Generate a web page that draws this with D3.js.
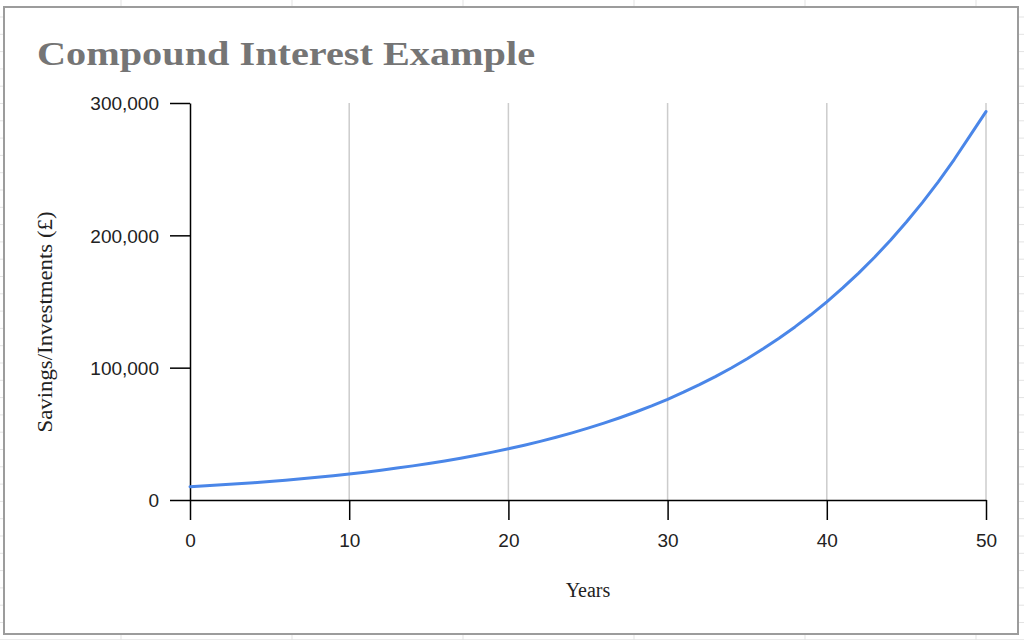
<!DOCTYPE html>
<html>
<head>
<meta charset="utf-8">
<script src="https://cdn.jsdelivr.net/npm/d3@7"></script>
<style>
  html, body { margin: 0; padding: 0; background: #ffffff; }
  svg { display: block; }
</style>
</head>
<body>
<svg id="chart" width="1024" height="640"></svg>
<script>
// ---- data ----
const title = "Compound Interest Example";
const xTitle = "Years";
const yTitle = "Savings/Investments (£)";
const years = [0,1,2,3,4,5,6,7,8,9,10,11,12,13,14,15,16,17,18,19,20,21,22,23,24,25,26,27,28,29,30,31,32,33,34,35,36,37,38,39,40,41,42,43,44,45,46,47,48,49,50];
const savings = [10000,10700,11449,12250,13108,14026,15007,16058,17182,18385,
  19672,21049,22522,24098,25785,27590,29522,31588,33799,36165,
  38697,41406,44304,47405,50724,54274,58074,62139,66488,71143,
  76123,81451,87153,93253,99781,106766,114239,122236,130793,139948,
  149745,160227,171443,183444,196285,210025,224726,240457,257289,275299,
  293500];
const xTicks = [0,10,20,30,40,50];
const yTicks = [0,100000,200000,300000];

// ---- layout ----
const svg = d3.select("#chart");
const W = 1024, H = 640;
const plot = {left: 190, right: 986, top: 103, bottom: 500};

// spreadsheet background grid
const bg = svg.append("g").attr("stroke", "#e3e3e3").attr("stroke-width", 1);
d3.range(121, W, 171).forEach(x => bg.append("line").attr("x1", x).attr("x2", x).attr("y1", 0).attr("y2", H));
d3.range(17, H, 17.3).forEach(y => bg.append("line").attr("x1", 0).attr("x2", W).attr("y1", y).attr("y2", y));

// chart box
svg.append("rect").attr("x", 4).attr("y", 7).attr("width", 1014).attr("height", 627)
  .attr("fill", "#ffffff").attr("stroke", "#9c9c9c").attr("stroke-width", 2);

const x = d3.scaleLinear().domain([0, 50]).range([plot.left, plot.right]);
const y = d3.scaleLinear().domain([0, 300000]).range([plot.bottom, plot.top]);

// vertical gridlines
svg.append("g").selectAll("line").data(xTicks.filter(d => d > 0)).join("line")
  .attr("x1", d => x(d)).attr("x2", d => x(d))
  .attr("y1", plot.top).attr("y2", plot.bottom)
  .attr("stroke", "#cccccc").attr("stroke-width", 1.5);

// axes
const fmt = d3.format(",");
const yAxis = svg.append("g").attr("transform", `translate(${plot.left},0)`)
  .call(d3.axisLeft(y).tickValues(yTicks).tickFormat(fmt).tickSize(20).tickSizeOuter(0).tickPadding(11));
const xAxis = svg.append("g").attr("transform", `translate(0,${plot.bottom})`)
  .call(d3.axisBottom(x).tickValues(xTicks).tickFormat(d3.format("d")).tickSize(20).tickSizeOuter(0).tickPadding(14));

[yAxis, xAxis].forEach(a => {
  a.selectAll("path.domain").attr("stroke", "#000").attr("stroke-width", 1.5);
  a.selectAll(".tick line").attr("stroke", "#000").attr("stroke-width", 1.5);
  a.selectAll(".tick text").attr("fill", "#222").attr("font-family", "'Liberation Sans', Arial, sans-serif").attr("font-size", 19);
});
yAxis.selectAll(".tick text").attr("dy", "0.36em");

// line
const line = d3.line().x((d, i) => x(years[i])).y(d => y(d));
svg.append("path").datum(savings)
  .attr("d", line).attr("fill", "none")
  .attr("stroke", "#4a86e8").attr("stroke-width", 3)
  .attr("stroke-linejoin", "round").attr("stroke-linecap", "round");

// titles
svg.append("text").attr("x", 37).attr("y", 65)
  .attr("font-family", "'Liberation Serif', 'DejaVu Serif', serif").attr("font-weight", "bold")
  .attr("font-size", 33).attr("fill", "#757575")
  .attr("textLength", 498).attr("lengthAdjust", "spacingAndGlyphs")
  .text(title);

svg.append("text").attr("x", 588).attr("y", 597).attr("text-anchor", "middle")
  .attr("font-family", "'Liberation Serif', serif").attr("font-size", 20).attr("fill", "#222")
  .text(xTitle);

svg.append("text").attr("transform", "translate(52,322) rotate(-90)").attr("text-anchor", "middle")
  .attr("font-family", "'Liberation Serif', serif").attr("font-size", 20).attr("fill", "#222")
  .attr("textLength", 221).attr("lengthAdjust", "spacingAndGlyphs")
  .text(yTitle);
</script>
</body>
</html>
